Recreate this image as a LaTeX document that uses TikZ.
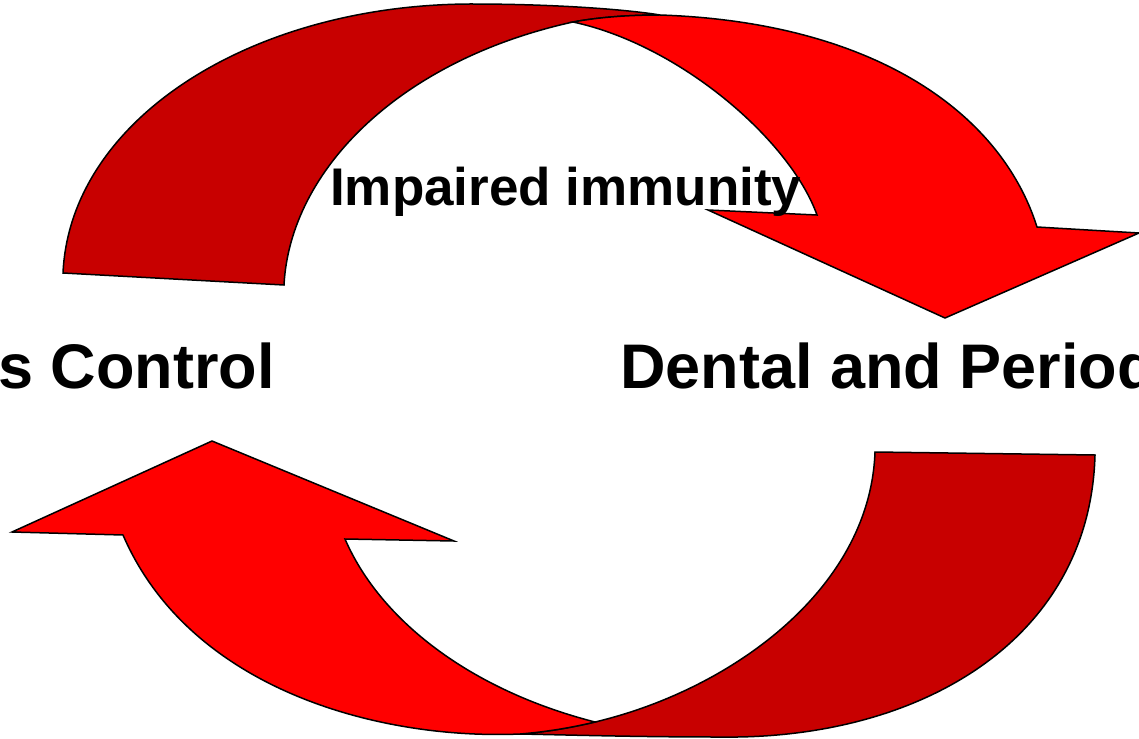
\documentclass[tikz,border=0pt]{standalone}
\usepackage{fontspec}
\setmainfont{Liberation Sans}
\definecolor{darkred}{RGB}{200,0,0}
\definecolor{brightred}{RGB}{255,0,0}
\tikzset{
  band/.style={draw=black,line width=1.5pt,line join=miter},
  darkband/.style={band,fill=darkred},
  brightband/.style={band,fill=brightred},
  lbl/.style={inner sep=0pt,font=\bfseries},
}
\begin{document}
\begin{tikzpicture}[x=1pt,y=-1pt]
\useasboundingbox (0,0) rectangle (1139,738);
\clip (0,0) rectangle (1139,738);
% top arrow: back (dark) band
\draw[darkband] (63,273) -- (284,285)
  .. controls (290,170) and (400,60) .. (573,22)
  .. controls (600,17) and (630,15) .. (660,15)
  .. controls (630,10) and (560,4) .. (470,4)
  .. controls (250,5) and (70,120) .. (63,273) -- cycle;
% top arrow: front (bright) band with head
\draw[brightband] (573,22)
  .. controls (600,17) and (630,15) .. (660,15)
  .. controls (870,22) and (1000,110) .. (1037,227)
  -- (1139,233) -- (945,318) -- (708,210) -- (817,215)
  .. controls (790,140) and (680,45) .. (573,22) -- cycle;
% bottom arrow: back (dark) band
\draw[darkband] (875,452) -- (1095,455)
  .. controls (1090,640) and (920,740) .. (720,737)
  .. controls (640,737) and (570,735) .. (520,734)
  .. controls (545,732) and (570,728) .. (595,722)
  .. controls (730,690) and (870,590) .. (875,452) -- cycle;
% bottom arrow: front (bright) band with head
\draw[brightband] (595,722)
  .. controls (570,728) and (545,732) .. (520,734)
  .. controls (380,740) and (190,690) .. (123,535)
  -- (12,532) -- (212,441) -- (454,541) -- (345,539)
  .. controls (380,620) and (470,690) .. (595,722) -- cycle;
% labels
\node[lbl,anchor=base west,font=\bfseries\fontsize{53}{60}\selectfont] (imm) at (330,205) {Impaired immunity};
\node[lbl,anchor=base east,font=\bfseries\fontsize{63}{70}\selectfont] (ctrl) at (275,388) {s Control};
\node[lbl,anchor=base west,font=\bfseries\fontsize{63}{70}\selectfont] (dent) at (620,388) {Dental and Period};
\end{tikzpicture}
\end{document}
